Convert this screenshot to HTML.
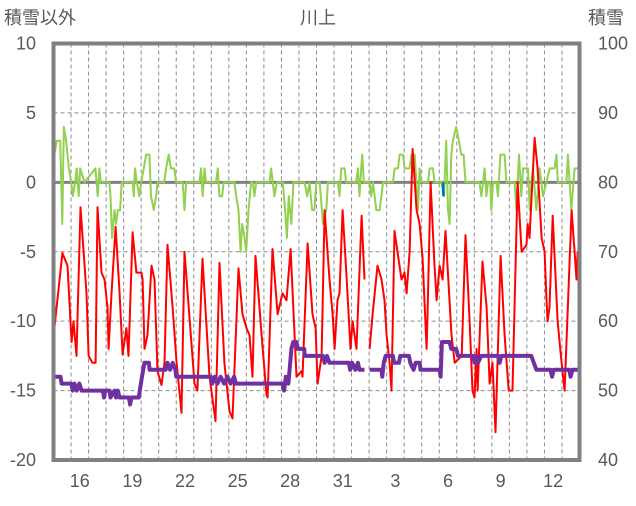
<!DOCTYPE html>
<html><head><meta charset="utf-8"><style>
body{margin:0;background:#fff;}
svg text{font-family:"Liberation Sans","Noto Sans CJK JP",sans-serif;fill:#595959;}
</style></head><body>
<svg id="chart" width="636" height="501" xmlns="http://www.w3.org/2000/svg">
<g id="grid"></g>
<g id="series"></g>
<g id="axes"></g>
<text x="318" y="24" font-size="18" text-anchor="middle">川上</text>
<text x="4" y="24" font-size="18">積雪以外</text>
<text x="588" y="24" font-size="18">積雪</text>
</svg>
<script>
const leftTicks=[10,5,0,-5,-10,-15,-20];
const rightTicks=[100,90,80,70,60,50,40];
const dayLabels=["16","19","22","25","28","31","3","6","9","12"];
const dayLabelPos=[1,4,7,10,13,16,19,22,25,28];
const nDays=30;
const redT=[0,0.51,0.8,1.03,1.14,1.31,1.54,1.88,2.0,2.22,2.4,2.51,2.74,2.91,3.08,3.14,3.31,3.54,3.77,3.94,4.16,4.28,4.51,4.73,5.02,5.08,5.19,5.36,5.59,5.76,5.93,6.16,6.33,6.5,6.79,7.02,7.3,7.47,8.04,8.21,8.5,8.9,9.24,9.47,9.75,10.04,10.21,10.55,10.78,11.01,11.18,11.29,11.35,11.52,11.87,12.15,12.21,12.49,12.78,13.06,13.29,13.52,13.86,14.15,14.2,14.49,14.77,14.95,15.06,15.29,15.46,15.74,15.92,16.03,16.2,16.31,16.49,16.72,16.94,17.06,17.28,17.57,17.74,null,18.03,18.2,18.48,18.71,18.88,19.0,19.17,19.28,19.45,19.62,19.85,20.02,20.14,20.31,20.48,20.71,20.88,21.05,21.28,21.34,21.51,21.73,21.85,22.02,22.19,22.36,22.47,22.7,22.88,23.28,23.5,23.73,23.9,24.01,24.13,24.19,24.47,24.7,24.87,25.04,25.21,25.5,25.73,25.96,26.18,26.47,26.7,26.98,27.04,27.15,27.44,27.61,27.84,28.01,28.12,28.18,28.29,28.47,28.75,28.98,29.15,29.55,29.72,29.83,29.89,29.95];
const redV=[-11.1,-5.1,-6,-11.5,-10,-12.5,-1.8,-8,-12.5,-13,-13,-1.8,-6.5,-7,-9,-12,-8,-3.2,-8,-12.4,-10.5,-12.5,-3.6,-6.5,-6.5,-7,-12,-11,-6,-7,-13.6,-14.6,-13,-4.5,-9,-13,-16.6,-5,-14.5,-15,-5.5,-14,-17.2,-5.8,-13,-16.5,-17,-6.2,-9.5,-10.5,-11,-13,-14,-5.3,-11,-15.3,-15.5,-4.8,-9.5,-8,-8.5,-4.8,-14,-13.6,-14,-4.4,-9.5,-10.5,-14.5,-12.5,-2,-7,-9.5,-12,-8.5,-8,-2,-7,-12,-10,-12,-2.4,-7,null,-12,-9.5,-6,-7,-8.5,-11,-13,-15,-3.5,-5,-7,-6.5,-8,-5,2.4,-2,-3,-5.5,-12,-9,0,-6,-8.5,-6,-7,-3.5,-6,-11,-13,-12.5,-3.8,-10,-15,-15.5,-12,-15,-5.7,-9,-14.5,-13,-18,-5.3,-11,-15,-15,0,-5,-4.5,-3,-4,3.2,1,-4,-5,-8.5,-10,-9,-2.4,-10,-13,-15,-2,-5,-7,-5,-6.5];
const greenT=[0,0.05,0.19,0.38,0.5,0.59,0.72,0.88,1.01,1.1,1.23,1.33,1.44,1.52,1.77,2.39,2.52,2.62,2.7,3.19,3.25,3.34,3.48,3.57,3.67,3.8,3.89,4.52,4.58,4.65,4.75,4.9,5.0,5.15,5.28,5.47,5.56,5.72,5.85,5.94,6.32,6.42,6.57,6.7,6.89,6.99,7.37,7.47,7.56,8.32,8.42,8.51,8.61,8.7,9.27,9.37,9.46,9.62,9.7,10.32,10.42,10.55,10.67,10.76,10.9,10.99,11.12,11.27,11.37,11.46,11.56,12.32,12.41,12.51,12.6,12.74,13.08,13.21,13.31,13.42,13.56,13.69,14.32,14.47,14.6,14.75,14.88,14.99,15.18,15.37,15.56,15.65,16.22,16.31,16.41,16.6,16.69,17.26,17.36,17.45,17.55,17.61,17.7,18.03,18.12,18.22,18.41,18.6,18.7,18.79,19.36,19.46,19.65,19.74,19.93,20.03,20.31,20.41,20.6,20.69,20.79,20.88,20.98,21.36,21.45,21.64,21.74,22.12,22.27,22.4,22.5,22.59,22.69,22.78,22.97,23.12,23.26,23.39,23.5,24.3,24.4,24.5,24.59,24.69,24.78,24.91,24.97,25.07,25.26,25.35,25.49,25.73,25.83,26.3,26.4,26.55,26.68,26.78,27.06,27.16,27.25,27.35,27.54,27.73,27.92,28.11,28.3,28.58,28.68,28.77,29.25,29.34,29.53,29.72,29.91];
const greenV=[-2,2,3,3,-3,4,3,1,0,-1,0,1,-1,1,0,1,-1,1,0,0,-1,-4,-2,-3,-2,-2,0,0,-1,1,0,-1,0,1,2,2,-1,-2,-1,0,0,1,2,1,1,0,0,-2,0,0,1,-1,1,0,0,1,-1,-1,0,0,-1,-2,-5,-3,-4,-5,-2,0,0,-1,0,0,1,0,-1,0,0,-2,-4,-1,-3,0,0,-1,0,-2,-2,0,0,-3,-2,0,0,-1,1,1,0,0,1,-1,1,2,0,0,-1,0,-2,-2,-1,0,0,1,1,2,2,1,1,2,2,0,-2,1,0,0,1,1,0,0,-1,3,-2,-3,2,3,4,3,2,2,0,0,-1,0,1,-1,0,0,-2,0,0,-1,2,2,0,0,-2,2,-1,1,1,-2,0,1,-2,1,-1,0,1,1,2,0,0,2,-2,1,1];
const snowT=[0,0.4,0.46,1.01,1.1,1.2,1.33,1.48,1.6,1.77,2.82,2.88,2.95,3.2,3.25,3.48,3.57,3.67,3.77,4.3,4.37,4.45,4.86,5.05,5.19,5.44,5.48,6.4,6.5,6.65,6.8,6.95,7.0,8.97,9.06,9.2,9.35,9.53,9.73,9.92,10.1,10.3,10.4,13.06,13.15,13.25,13.4,13.57,13.67,13.86,13.92,14.3,14.33,15.15,15.37,15.46,15.6,15.74,16.84,16.92,17.03,17.22,17.36,17.45,17.74,null,18.03,18.7,18.75,18.83,18.94,19.36,19.42,19.7,19.78,20.27,20.35,20.54,20.65,20.88,20.93,22.02,22.08,22.15,22.59,22.69,22.97,23.07,23.92,24.02,24.11,24.21,24.4,25.35,25.45,25.54,27.25,27.54,28.34,28.44,28.53,29.41,29.49,29.6,29.91];
const snowV=[52,52,51,51,50,51,50,51,50,50,50,49,50,50,49,50,49,50,49,49,48,49,49,52,54,54,53,53,54,53,54,53,52,52,51,52,51,52,51,52,51,52,51,51,50,52,51,56,57,57,56,56,55,55,55,54,55,54,54,53,54,53,54,53,53,null,53,53,52,54,55,55,54,54,55,55,54,53,54,54,53,53,52,57,57,56,56,55,55,54,55,54,55,55,54,55,55,53,53,52,53,53,52,53,53];
const blueT=[22.22,22.24];
const blueV=[0,-1];

const X0=53.5,X1=579.5,Y0=43.5,Y1=460;
const xs=t=>X0+(X1-X0)*t/nDays;
const yl=v=>Y0+(10-v)*(Y1-Y0)/30;
const yr=v=>Y0+(100-v)*(Y1-Y0)/60;
const NS="http://www.w3.org/2000/svg";
function mk(tag,attrs,parent){const e=document.createElementNS(NS,tag);for(const k in attrs)e.setAttribute(k,attrs[k]);parent.appendChild(e);return e;}
const grid=document.getElementById('grid'),series=document.getElementById('series'),axes=document.getElementById('axes');
for(let d=1;d<nDays;d++){const l=mk('line',{x1:xs(d),x2:xs(d),y1:Y0,y2:Y1,stroke:'#8c8c8c','stroke-width':1,'stroke-dasharray':'4,3'},grid);

}
leftTicks.forEach(v=>{if(v!==10&&v!==-20&&v!==0){const l=mk('line',{x1:X0,x2:X1,y1:yl(v),y2:yl(v),stroke:'#8c8c8c','stroke-width':1,'stroke-dasharray':'4,3'},grid);

}});
function path(T,V,yf,color,w,name){let d='',pen=false;for(let i=0;i<T.length;i++){if(T[i]===null||V[i]===null){pen=false;continue;}d+=(pen?'L':'M')+xs(T[i]).toFixed(1)+','+yf(V[i]).toFixed(1);pen=true;}
const p=mk('path',{d:d,fill:'none',stroke:color,'stroke-width':w,'stroke-linejoin':'round'},series);

}
const zl=mk('line',{x1:X0,x2:X1,y1:yl(0),y2:yl(0),stroke:'#808080','stroke-width':3},grid);


path(greenT,greenV,yl,'#92d050',2,'series-green-line');
path(blueT,blueV,yl,'#0070c0',2.5,'series-blue-line');
path(redT,redV,yl,'#ff0000',2,'series-red-line');
path(snowT,snowV,yr,'#7030a0',4,'snow-depth-line');
const fr=mk('rect',{x:X0,y:Y0,width:X1-X0,height:Y1-Y0,fill:'none',stroke:'#808080','stroke-width':4},axes);


leftTicks.forEach(v=>{const t=mk('text',{x:36,y:yl(v)+6,'font-size':18,'text-anchor':'end'},axes);t.textContent=v;

});
rightTicks.forEach(v=>{const t=mk('text',{x:598,y:yr(v)+6,'font-size':18},axes);t.textContent=v;

});
dayLabels.forEach((s,i)=>{const t=mk('text',{x:xs(dayLabelPos[i]+0.5),y:487,'font-size':18,'text-anchor':'middle'},axes);t.textContent=s;

});
</script>
</body></html>
